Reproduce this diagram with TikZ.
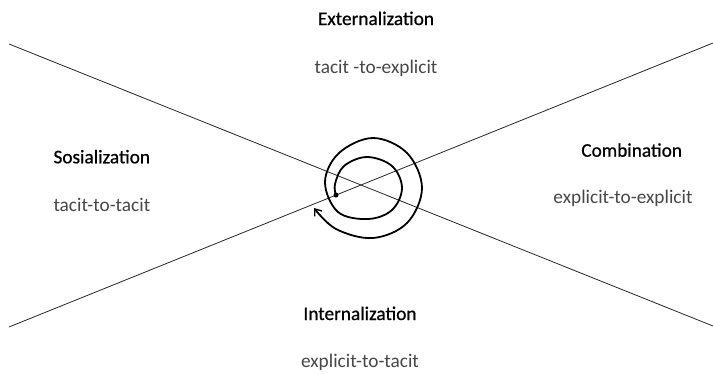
\documentclass[tikz,border=0pt]{standalone}
\usepackage{fontspec}
\setmainfont{Carlito}
\newfontfamily\headfont{Carlito}[FakeBold=0.7]
\usetikzlibrary{arrows.meta}
\begin{document}
\begin{tikzpicture}[x=1pt,y=-1pt,
  heading/.style={font=\headfont\fontsize{19.3}{23}\selectfont, text=black, inner sep=0pt},
  mode/.style={font=\fontsize{19.3}{23}\selectfont, text=black!72, inner sep=0pt},
  axisline/.style={line width=0.8pt, black!85},
  spiralline/.style={line width=1.8pt, line cap=round, line join=round},
  dotmark/.style={circle, fill=black, inner sep=0pt, minimum size=5pt}]
\useasboundingbox (0,0) rectangle (713,373);

% the two crossing axes
\coordinate (a1) at (9,44);
\coordinate (a2) at (713,326);
\coordinate (b1) at (9,327);
\coordinate (b2) at (713,43);
\draw[axisline] (a1) -- (a2);
\draw[axisline] (b1) -- (b2);

% knowledge spiral
\node[dotmark] (start) at (336,195) {};
\draw[spiralline, -{Straight Barb[length=6pt, width=9pt, line width=1.4pt]}]
  plot[smooth, tension=0.6] coordinates {
    (336,195) (335,184) (344,166) (367,157) (392,166) (402,188)
    (392,210) (368,219) (338,212) (325,182) (339,153) (373,138)
    (407,153) (422,188) (407,223) (373,238) (336,229) (314,208)};

% quadrant labels
\node[heading, anchor=base] (ext) at (376,25) {Externalization};
\node[mode, anchor=base] (extm) at (376,73) {tacit -to-explicit};
\node[heading, anchor=base west] (soc) at (53.3,163.3) {Sosialization};
\node[mode, anchor=base west] (socm) at (53.3,211.7) {tacit-to-tacit};
\node[heading, anchor=base] (com) at (631.7,156.7) {Combination};
\node[mode, anchor=base] (comm) at (623,203.3) {explicit-to-explicit};
\node[heading, anchor=base] (int) at (360,320) {Internalization};
\node[mode, anchor=base] (intm) at (360,367) {explicit-to-tacit};
\end{tikzpicture}
\end{document}
